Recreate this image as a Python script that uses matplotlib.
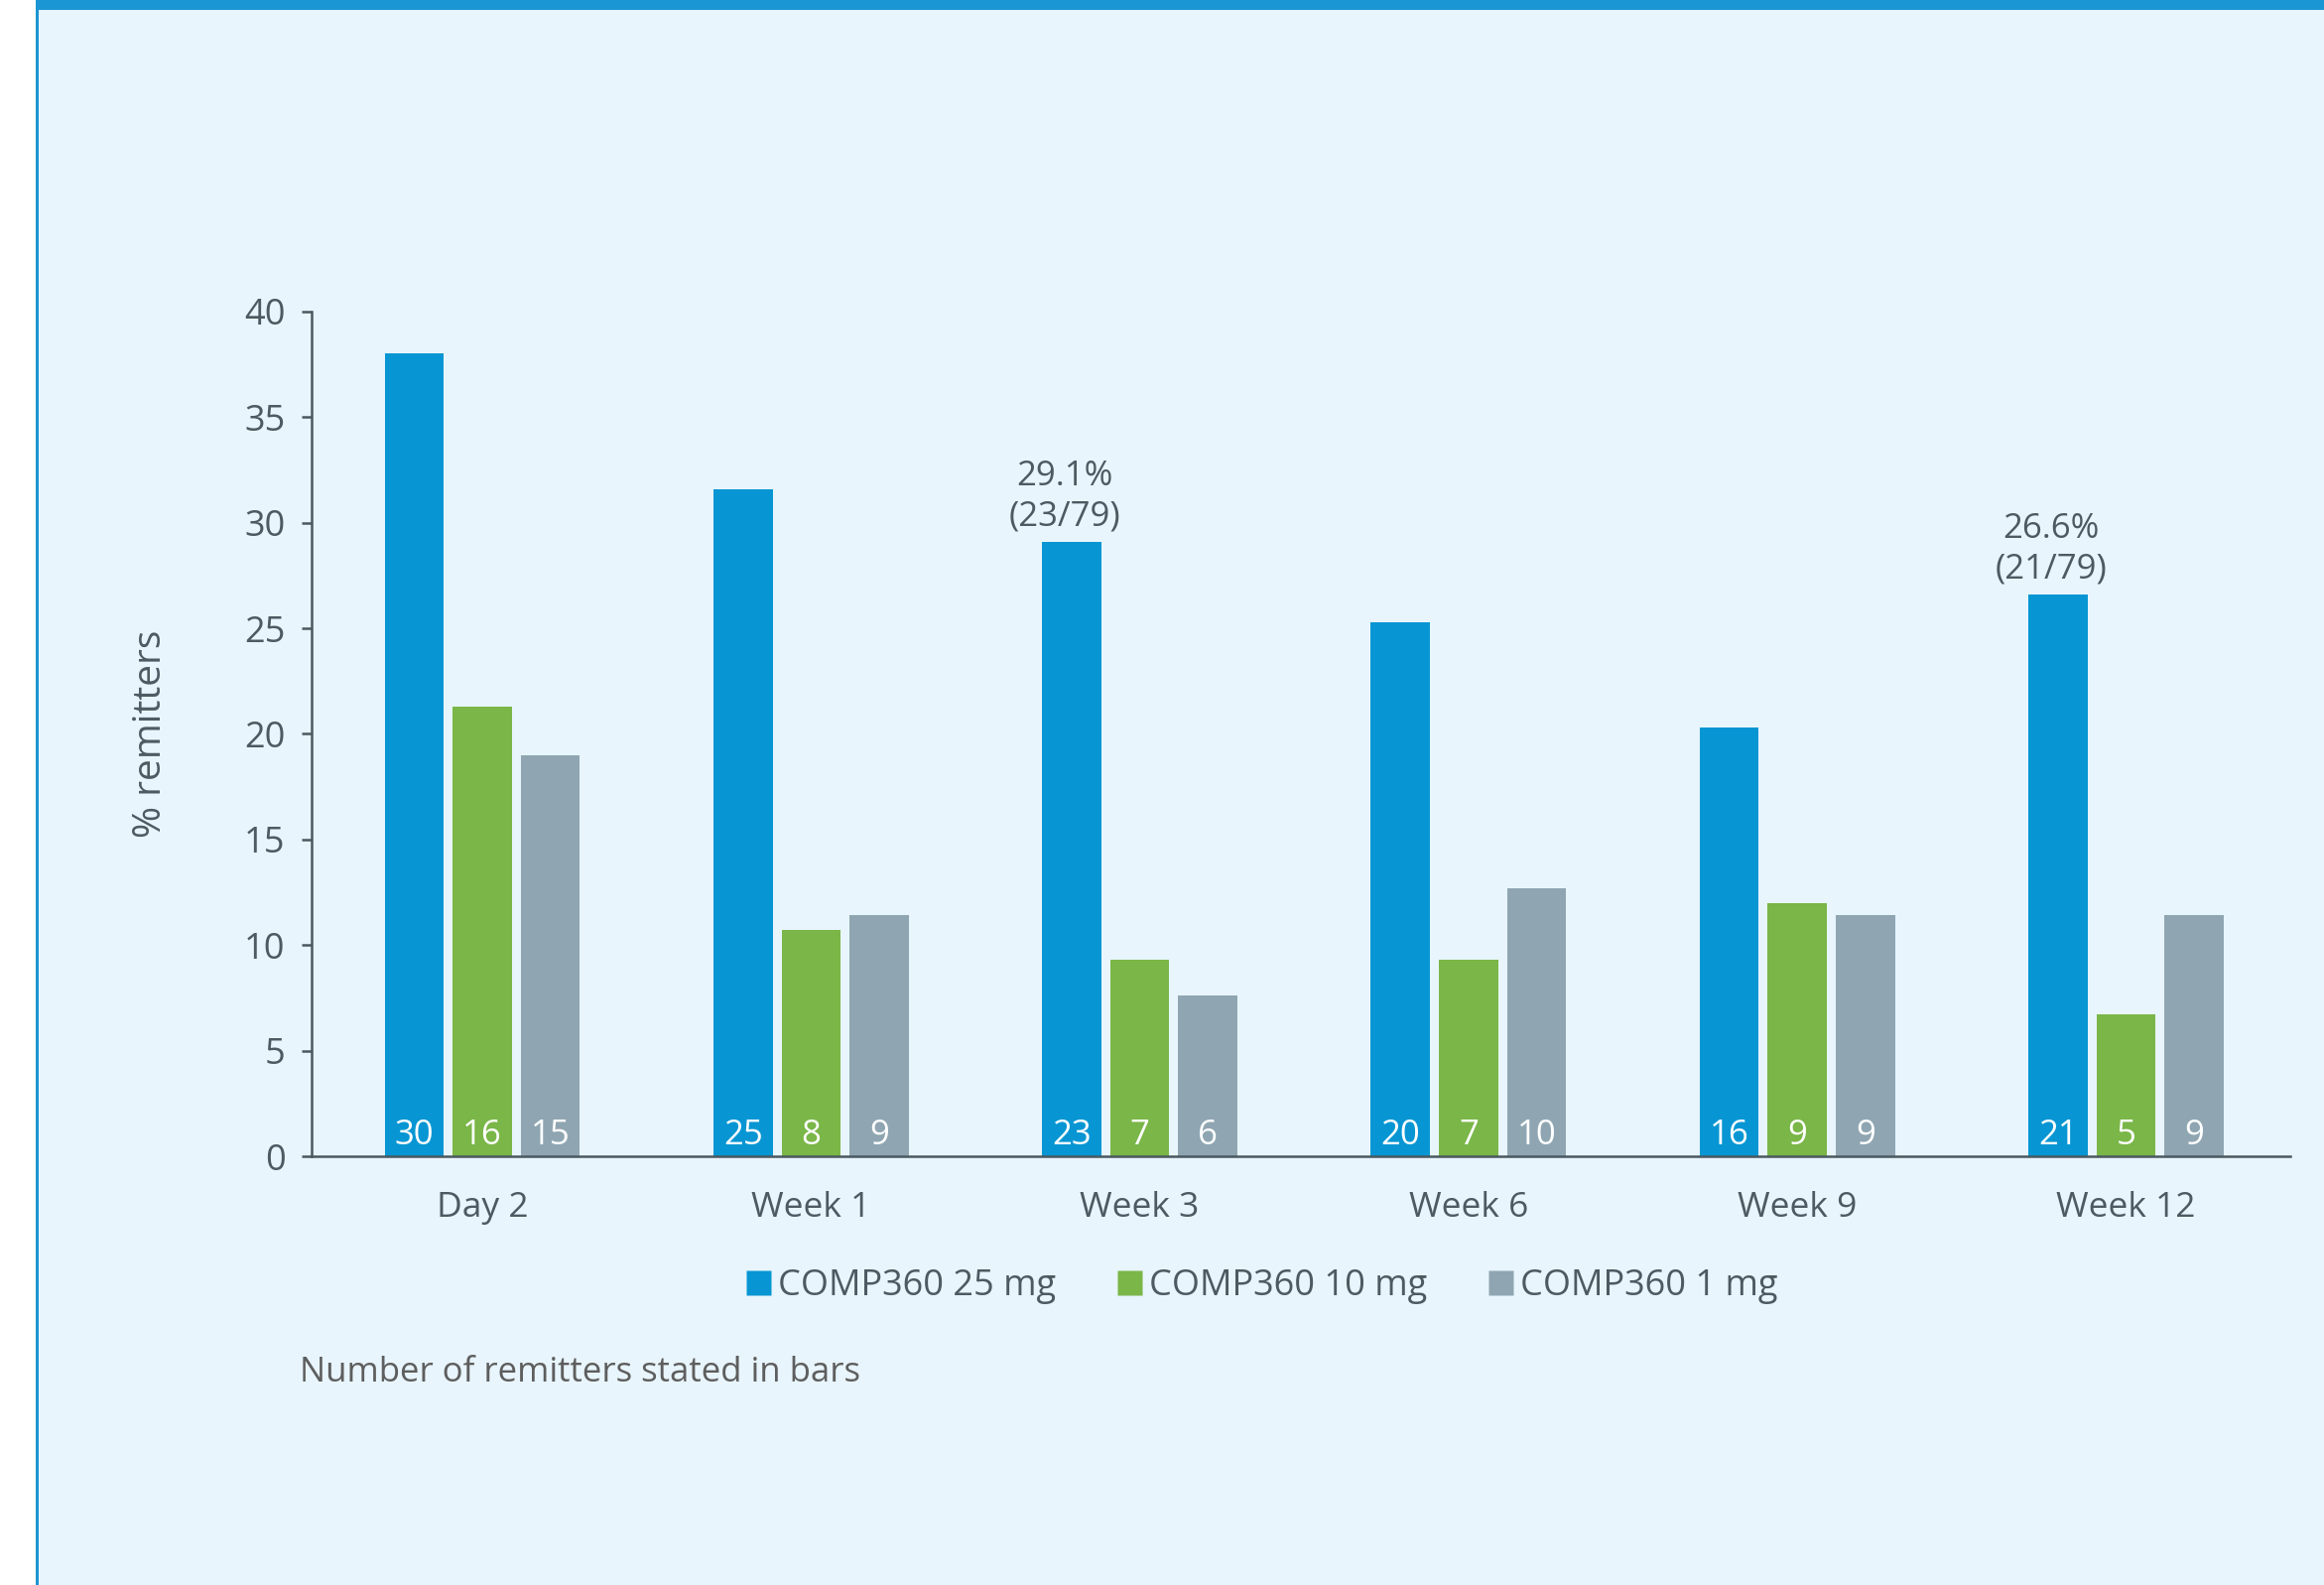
import matplotlib.pyplot as plt
import numpy as np
from matplotlib.patches import Rectangle
from matplotlib.lines import Line2D

categories = ['Day 2', 'Week 1', 'Week 3', 'Week 6', 'Week 9', 'Week 12']
series = ['COMP360 25 mg', 'COMP360 10 mg', 'COMP360 1 mg']
pct_25 = [38.0, 31.6, 29.1, 25.3, 20.3, 26.6]
pct_10 = [21.3, 10.7, 9.3, 9.3, 12.0, 6.7]
pct_1 = [19.0, 11.4, 7.6, 12.7, 11.4, 11.4]
n_25 = [30, 25, 23, 20, 16, 21]
n_10 = [16, 8, 7, 7, 9, 5]
n_1 = [15, 9, 6, 10, 9, 9]
callouts = {2: '29.1%\n(23/79)', 5: '26.6%\n(21/79)'}

colors = ['#0796D3', '#7AB648', '#8FA6B2']
bg = '#E8F5FC'
txt = '#4D5A62'

plt.rcParams['font.family'] = ['Open Sans', 'DejaVu Sans']

fig = plt.figure(figsize=(23.42, 15.97), dpi=100, facecolor=bg)
# frame decoration: white margin, blue left rule and top band
fig.patches.append(Rectangle((0, 0), 36 / 2342, 1, transform=fig.transFigure,
                             facecolor='white', edgecolor='none', zorder=0))
fig.patches.append(Rectangle((36 / 2342, 0), 3 / 2342, 1, transform=fig.transFigure,
                             facecolor='#1B95D3', edgecolor='none', zorder=0))
fig.patches.append(Rectangle((36 / 2342, 1 - 10 / 1597), 1, 10 / 1597, transform=fig.transFigure,
                             facecolor='#1A96D4', edgecolor='none', zorder=0))

ax = fig.add_axes([0.134, 0.2705, 0.8515, 0.533])
ax.set_facecolor(bg)

x = np.arange(len(categories))
w = 0.18
off = 0.207
for i, (vals, counts) in enumerate([(pct_25, n_25), (pct_10, n_10), (pct_1, n_1)]):
    xs = x + (i - 1) * off
    ax.bar(xs, vals, width=w, color=colors[i], label=series[i], zorder=2)
    for xi, c in zip(xs, counts):
        ax.annotate(str(c), (xi, 0), xytext=(0, 15), textcoords='offset points',
                    ha='center', va='center', color='white', fontsize=25, zorder=3)

for k, label in callouts.items():
    ax.annotate(label, (x[k] - off, pct_25[k]), xytext=(-5, 6), textcoords='offset points',
                ha='center', va='bottom', color=txt, fontsize=25, linespacing=1.25)

ax.set_xlim(-0.52, 5.5)
ax.set_ylim(0, 40)
ax.set_yticks(range(0, 41, 5))
ax.set_xticks(x)
ax.set_xticklabels(categories)
for s in ['top', 'right']:
    ax.spines[s].set_visible(False)
for s in ['left', 'bottom']:
    ax.spines[s].set_color('#4A5860')
    ax.spines[s].set_linewidth(1.8)
ax.tick_params(axis='y', length=7, width=1.8, color='#4A5860', labelcolor=txt,
               labelsize=26, pad=12)
ax.tick_params(axis='x', length=0, labelcolor=txt, labelsize=25.5, pad=25)
ax.set_ylabel('% remitters', fontsize=28, color=txt, labelpad=54)

handles = [Line2D([], [], marker='s', linestyle='none', markersize=18,
                  markerfacecolor=c, markeredgecolor='none') for c in colors]
fig.legend(handles, series, loc='center', bbox_to_anchor=(0.543, 0.1885), ncol=3,
           frameon=False, fontsize=26, labelcolor=txt, handletextpad=0.2,
           columnspacing=1.7, handlelength=0.7)

fig.text(302 / 2342, 1 - 1383 / 1597, 'Number of remitters stated in bars',
         fontsize=25, color='#5E5E5E', va='center', ha='left')

fig.savefig('out.png', dpi=100, facecolor=bg)
